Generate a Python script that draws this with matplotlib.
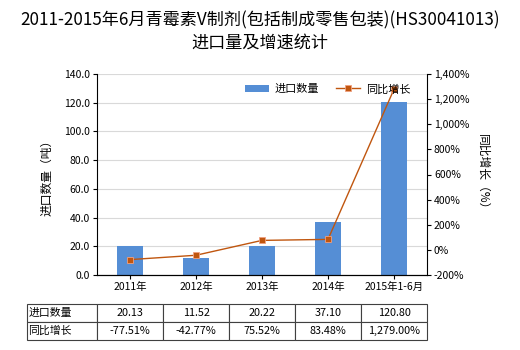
import numpy as np
import matplotlib
matplotlib.use("Agg")
import matplotlib.pyplot as plt
from matplotlib.ticker import FuncFormatter

plt.rcParams['font.family'] = ['Noto Sans CJK SC', 'DejaVu Sans']
plt.rcParams['axes.unicode_minus'] = False

categories = ['2011年', '2012年', '2013年', '2014年', '2015年1-6月']
qty = [20.13, 11.52, 20.22, 37.10, 120.80]
growth = [-77.51, -42.77, 75.52, 83.48, 1279.00]
qty_labels = ['20.13', '11.52', '20.22', '37.10', '120.80']
growth_labels = ['-77.51%', '-42.77%', '75.52%', '83.48%', '1,279.00%']

bar_color = '#558ED5'
line_color = '#C0560F'

fig = plt.figure(figsize=(5.2, 3.5), dpi=100)
ax = fig.add_axes([97/520, 1-275/350, 330/520, 201/350])
x = np.arange(len(categories))

ax.bar(x, qty, width=0.4, color=bar_color, zorder=2, label='进口数量')
ax.set_xlim(-0.5, len(categories) - 0.5)
ax.set_ylim(0, 140)
ax.set_yticks(np.arange(0, 141, 20))
ax.yaxis.set_major_formatter(FuncFormatter(lambda v, p: f'{v:.1f}'))
ax.grid(axis='y', color='#D9D9D9', lw=0.8, zorder=0)
ax.set_xticks(x)
ax.set_xticklabels(categories)
ax.tick_params(axis='both', labelsize=7.5, length=3, width=0.8, pad=2)
ax.set_ylabel('进口数量（吨）', fontsize=8.5, labelpad=8)
ax.spines['top'].set_visible(False)
ax.spines['right'].set_visible(False)

ax2 = ax.twinx()
ax2.plot(x, growth, color=line_color, lw=1.0, marker='s', ms=4,
         markerfacecolor=line_color, markeredgecolor='#F0A080', markeredgewidth=0.6,
         zorder=3, label='同比增长')
ax2.set_ylim(-200, 1400)
ax2.set_yticks(np.arange(-200, 1401, 200))
ax2.yaxis.set_major_formatter(FuncFormatter(lambda v, p: f'{v:,.0f}%'))
ax2.tick_params(axis='y', labelsize=7.5, length=3, width=0.8, pad=2)
ax2.set_ylabel('同比增长（%）', fontsize=8.5, rotation=-90, labelpad=14)
ax2.spines['top'].set_visible(False)
ax2.spines['left'].set_visible(False)

h1, l1 = ax.get_legend_handles_labels()
h2, l2 = ax2.get_legend_handles_labels()
ax2.legend(h1 + h2, l1 + l2, loc='upper right', bbox_to_anchor=(0.98, 1.0),
           ncol=2, frameon=False, fontsize=8, handlelength=2.2,
           columnspacing=1.5, handletextpad=0.5)

fig.text(0.5, 0.943, '2011-2015年6月青霉素V制剂(包括制成零售包装)(HS30041013)',
         ha='center', va='center', fontsize=12.3)
fig.text(0.5, 0.877, '进口量及增速统计', ha='center', va='center', fontsize=12.3)

# data table under the chart
cell_text = [['进口数量'] + qty_labels, ['同比增长'] + growth_labels]
w0 = 70 / 330
tbl = ax.table(cellText=cell_text, cellLoc='center',
               colWidths=[w0] + [0.2] * 5,
               bbox=[-w0, -65/201, 1 + w0, 36/201])
tbl.auto_set_font_size(False)
tbl.set_fontsize(7.8)
for (r, c), cell in tbl.get_celld().items():
    cell.set_edgecolor('#404040')
    cell.set_linewidth(0.8)
    if c == 0:
        cell.set_text_props(ha='left')
        cell.PAD = 0.02

fig.savefig('out.png', dpi=100)
